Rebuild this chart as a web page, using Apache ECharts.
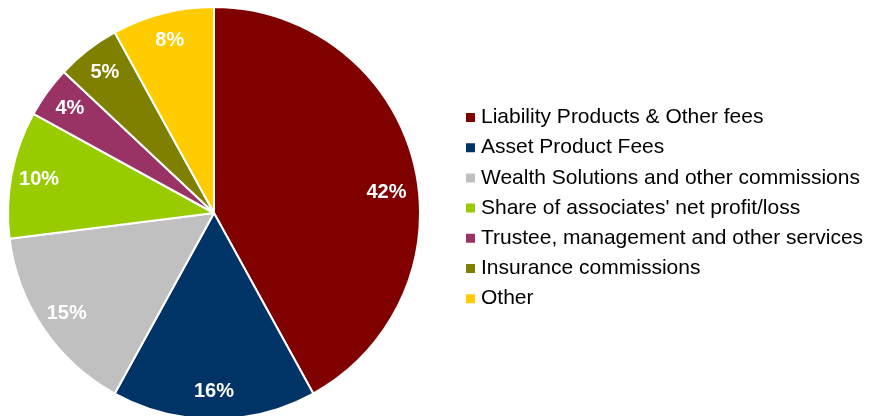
<!DOCTYPE html>
<html>
<head>
<meta charset="utf-8">
<script src="https://cdn.jsdelivr.net/npm/echarts@6/dist/echarts.min.js"></script>
<style>
  html, body { margin: 0; padding: 0; background: #ffffff; }
  #chart { width: 871px; height: 416px; }
</style>
</head>
<body>
<div id="chart"></div>
<script>
// Fee income breakdown (share of total, %)
const categories = [
  'Liability Products & Other fees',
  'Asset Product Fees',
  'Wealth Solutions and other commissions',
  "Share of associates' net profit/loss",
  'Trustee, management and other services',
  'Insurance commissions',
  'Other'
];
const shares = [42, 16, 15, 10, 4, 5, 8];
const sliceColors = ['#800000', '#003366', '#C0C0C0', '#99CC00', '#993366', '#808000', '#FFCC00'];

const pieCenter = [214, 213];
const pieRadius = 206;

const sliceData = categories.map((name, i) => ({
  name,
  value: shares[i],
  itemStyle: { color: sliceColors[i] }
}));

// Transparent ring used only to place the percentage labels near the rim
const labelData = categories.map((name, i) => ({
  name,
  value: shares[i],
  label: i === 0 ? { offset: [0, 24] } : {}
}));

const chart = echarts.init(document.getElementById('chart'), null, { renderer: 'canvas' });
chart.setOption({
  animation: false,
  color: sliceColors,
  legend: {
    orient: 'vertical',
    left: 459,
    top: 102,
    icon: 'rect',
    itemWidth: 11,
    itemHeight: 11,
    itemGap: 9.2,
    selectedMode: false,
    textStyle: {
      fontFamily: 'Liberation Sans, Arial, sans-serif',
      fontSize: 21,
      lineHeight: 21,
      color: '#000000',
      padding: [0, 0, 0, 0]
    },
    data: categories
  },
  series: [
    {
      type: 'pie',
      center: pieCenter,
      radius: [0, pieRadius],
      startAngle: 90,
      clockwise: true,
      avoidLabelOverlap: false,
      silent: true,
      label: { show: false },
      labelLine: { show: false },
      itemStyle: { borderColor: '#ffffff', borderWidth: 2 },
      data: sliceData
    },
    {
      type: 'pie',
      center: pieCenter,
      radius: [pieRadius * 0.7, pieRadius],
      startAngle: 90,
      clockwise: true,
      avoidLabelOverlap: false,
      silent: true,
      itemStyle: { color: 'rgba(0,0,0,0)', borderWidth: 0 },
      label: {
        show: true,
        position: 'inside',
        formatter: '{c}%',
        color: '#ffffff',
        fontFamily: 'Liberation Sans, Arial, sans-serif',
        fontWeight: 'bold',
        fontSize: 20
      },
      labelLine: { show: false },
      data: labelData
    }
  ]
});
</script>
</body>
</html>
